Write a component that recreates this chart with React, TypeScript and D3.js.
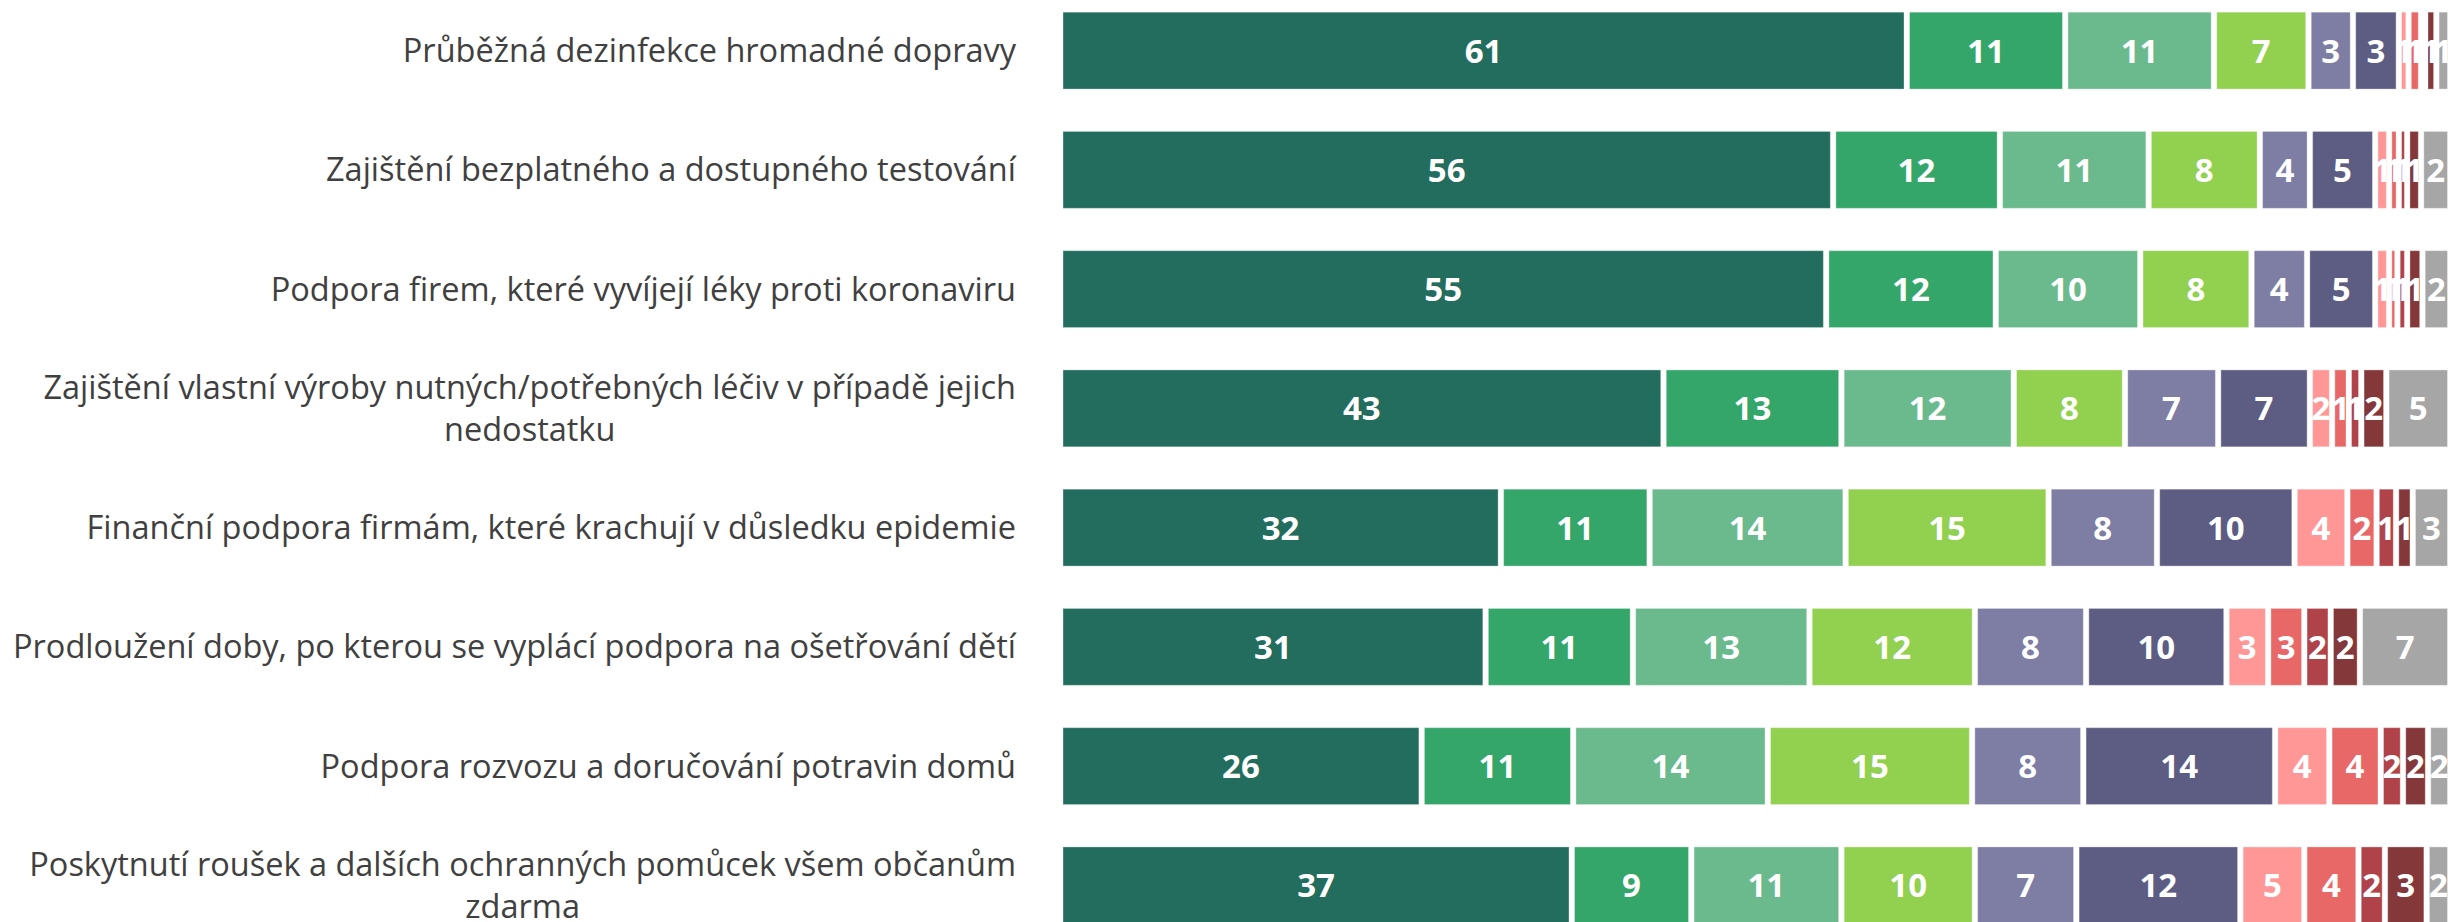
import React, { useEffect, useRef } from 'react';
import * as d3 from 'd3';

const categories = [
  'Průběžná dezinfekce hromadné dopravy',
  'Zajištění bezplatného a dostupného testování',
  'Podpora firem, které vyvíjejí léky proti koronaviru',
  'Zajištění vlastní výroby nutných/potřebných léčiv v případě jejich|nedostatku',
  'Finanční podpora firmám, které krachují v důsledku epidemie',
  'Prodloužení doby, po kterou se vyplácí podpora na ošetřování dětí',
  'Podpora rozvozu a doručování potravin domů',
  'Poskytnutí roušek a dalších ochranných pomůcek všem občanům|zdarma',
];

const seriesKeys = ['10', '9', '8', '7', '6', '5', '4', '3', '2', '1', 'Neví'];

const s10 = [60.9, 55.6, 55.1, 43.4, 31.7, 30.6, 26.0, 36.8];
const s9 = [11.4, 12.0, 12.2, 12.8, 10.7, 10.6, 10.9, 8.6];
const s8 = [10.7, 10.7, 10.4, 12.4, 14.1, 12.7, 14.0, 10.8];
const s7 = [6.8, 8.0, 8.0, 8.0, 14.6, 11.9, 14.7, 9.6];
const s6 = [3.2, 3.6, 4.0, 6.7, 7.8, 8.0, 8.0, 7.3];
const s5 = [3.3, 4.7, 4.9, 6.6, 9.9, 10.1, 13.8, 11.8];
const s4 = [0.7, 1.0, 1.0, 1.6, 3.8, 3.0, 3.9, 4.6];
const s3 = [0.9, 0.7, 0.6, 1.2, 2.1, 2.6, 3.7, 3.9];
const s2 = [0.3, 0.6, 0.7, 0.9, 1.4, 1.9, 1.6, 1.9];
const s1 = [0.8, 1.0, 1.1, 1.8, 1.2, 2.1, 1.8, 3.0];
const sNevi = [1.0, 2.1, 2.0, 4.6, 2.7, 6.5, 1.6, 1.7];

const seriesValues = [s10, s9, s8, s7, s6, s5, s4, s3, s2, s1, sNevi];

const colors = [
  '#236d5e', '#34a66a', '#6bba8d', '#92d050', '#7e7da3', '#5d5c83',
  '#ff9797', '#e86868', '#af4349', '#84383a', '#a6a6a6',
];

const W = 2448;
const H = 922;

const App: React.FC = () => {
  const svgRef = useRef<SVGSVGElement>(null);

  useEffect(() => {
    if (!svgRef.current) return;
    const svg = d3.select(svgRef.current);
    svg.selectAll('*').remove();

    const rows = categories.map((c, i) => {
      const r: any = { cat: c };
      seriesKeys.forEach((k, j) => (r[k] = seriesValues[j][i]));
      return r;
    });

    const stacked = d3.stack().keys(seriesKeys)(rows);

    const x = d3.scaleLinear().domain([0, 100]).range([1063, 2453]);
    const y = d3.scaleBand<string>()
      .domain(categories)
      .range([-9, 945])
      .paddingInner(0.355)
      .paddingOuter(0.1775);

    const gap = 5.5;

    const layer = svg.selectAll('g.layer')
      .data(stacked)
      .join('g')
      .attr('class', 'layer')
      .attr('fill', (_d, i) => colors[i]);

    layer.selectAll('rect')
      .data(d => d)
      .join('rect')
      .attr('x', d => x(d[0]))
      .attr('y', (d: any) => y(d.data.cat)!)
      .attr('width', d => Math.max(0, x(d[1]) - x(d[0]) - gap))
      .attr('height', y.bandwidth())
      .attr('stroke', 'rgba(255,255,255,0.35)')
      .attr('stroke-width', 1);

    layer.selectAll('text')
      .data(d => d.filter(p => Math.round(p[1] - p[0]) > 0))
      .join('text')
      .attr('x', d => (x(d[0]) + x(d[1]) - gap) / 2)
      .attr('y', (d: any) => y(d.data.cat)! + y.bandwidth() / 2)
      .attr('dy', '0.36em')
      .attr('text-anchor', 'middle')
      .attr('fill', '#fff')
      .style('font-family', '"Open Sans", sans-serif')
      .style('font-weight', 700)
      .style('font-size', '33px')
      .text(d => Math.round(d[1] - d[0]));

    // category labels: centered block, right-aligned to the axis
    const labelRight = 1016;
    const lineH = 42;
    categories.forEach(c => {
      const lines = c.split('|');
      const g = svg.append('g');
      const texts = lines.map(l =>
        g.append('text')
          .attr('text-anchor', 'middle')
          .attr('fill', '#404040')
          .style('font-family', '"Open Sans", sans-serif')
          .style('font-size', '32.5px')
          .text(l)
      );
      const maxW = d3.max(texts, t => (t.node() as SVGTextElement).getComputedTextLength()) || 0;
      const cx = labelRight - maxW / 2;
      const cy = y(c)! + y.bandwidth() / 2;
      texts.forEach((t, i) => {
        t.attr('x', cx)
          .attr('y', cy + (i - (lines.length - 1) / 2) * lineH)
          .attr('dy', '0.35em');
      });
    });
  }, []);

  return (
    <div style={{ position: 'absolute', left: 0, top: 0, width: W, height: H, overflow: 'hidden', background: '#fff' }}>
      <svg ref={svgRef} width={W} height={H} />
    </div>
  );
};

export default App;
